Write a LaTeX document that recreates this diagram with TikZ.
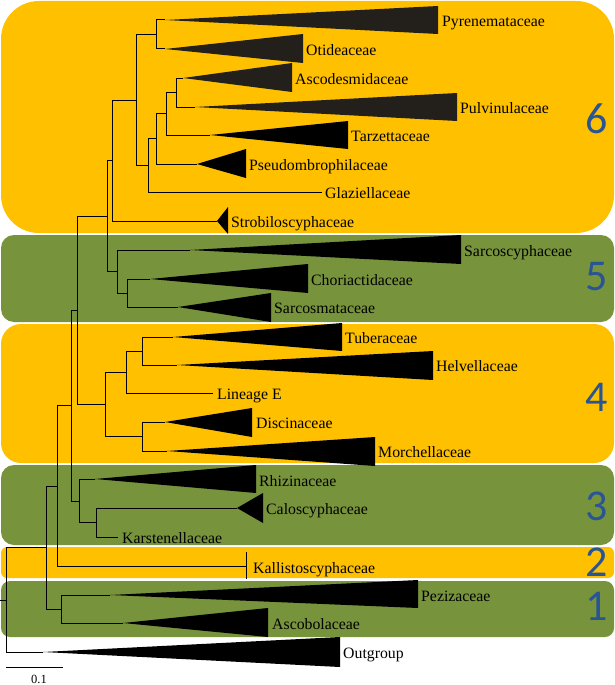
\documentclass[tikz,border=0pt]{standalone}
\usepackage{fontspec}
\setmainfont{Liberation Serif}
\newfontfamily\cladenumfont{Carlito}
\definecolor{boxyellow}{HTML}{FFC000}
\definecolor{boxgreen}{HTML}{77933C}
\definecolor{numblue}{HTML}{2A5594}
\definecolor{cladedark}{HTML}{231F1A}
\tikzset{
  branch/.style={draw=black, line width=1pt},
  taxon/.style={anchor=base west, inner sep=0pt, font=\fontsize{15.8}{18}\selectfont},
  grpnum/.style={text=numblue, inner sep=0pt, anchor=center, font=\cladenumfont\fontsize{44}{44}\selectfont},
}

\begin{document}
\begin{tikzpicture}[x=1pt, y=-1pt]
\useasboundingbox (0,0) rectangle (615,685);

% group boxes
\fill[boxyellow, rounded corners=38] (1,1) rectangle (614,233);
\fill[boxgreen, rounded corners=13] (1,235) rectangle (614,322);
\fill[boxyellow, rounded corners=20] (1,324) rectangle (614,463);
\fill[boxgreen, rounded corners=13] (1,465) rectangle (614,545);
\fill[boxyellow, rounded corners=6] (1,547) rectangle (614,578);
\fill[boxgreen, rounded corners=9] (1,581) rectangle (614,637);

\node[grpnum] (num6) at (597,119) {6};
\node[grpnum] (num5) at (597,277) {5};
\node[grpnum] (num4) at (597,397) {4};
\node[grpnum] (num3) at (597,506) {3};
\node[grpnum] (num2) at (597,562) {2};
\node[grpnum] (num1) at (597,606) {1};

% tips (apex of each collapsed clade, or end of a single branch)
\coordinate (pyren) at (165,20);
\coordinate (otid) at (165,49);
\coordinate (ascod) at (183,78);
\coordinate (pulvi) at (195,107);
\coordinate (tarze) at (210,135);
\coordinate (pseud) at (197,164);
\coordinate (glazi) at (322,192);
\coordinate (strob) at (217,221);
\coordinate (sarcoscy) at (190,250);
\coordinate (chori) at (150,279);
\coordinate (sarcosm) at (178,307);
\coordinate (tuber) at (173,337);
\coordinate (helve) at (177,365);
\coordinate (lineE) at (213,393);
\coordinate (disci) at (165,422);
\coordinate (morch) at (167,451);
\coordinate (rhizi) at (95,479);
\coordinate (calos) at (237,508);
\coordinate (karst) at (118,537);
\coordinate (kalli) at (246,566);
\coordinate (peziz) at (110,595);
\coordinate (ascob) at (123,623);
\coordinate (outgr) at (43,652);

% internal nodes
\coordinate (nPyrOti) at (156,34.5);
\coordinate (nAscPul) at (176,92.5);
\coordinate (nAPT) at (166,113.5);
\coordinate (nAPTP) at (156,138.5);
\coordinate (nAPTPG) at (148,165);
\coordinate (nSixCore) at (136,100);
\coordinate (nSix) at (112,160.5);
\coordinate (nChoSar) at (127,293);
\coordinate (nFive) at (117,271.5);
\coordinate (nSixFive) at (107,216);
\coordinate (nTubHel) at (142,351);
\coordinate (nTHL) at (126,372);
\coordinate (nDisMor) at (142,436.5);
\coordinate (nFour) at (105,404);
\coordinate (nSixToFour) at (77,310);
\coordinate (nCalKar) at (96,522.5);
\coordinate (nThree) at (79,501);
\coordinate (nSixToThree) at (71,405.5);
\coordinate (nSixToTwo) at (57,486);
\coordinate (nOne) at (61,609);
\coordinate (nIngroup) at (46,547.5);
\coordinate (nRoot) at (6,600);
\coordinate (rootStub) at (0,600);

% branches
\draw[branch] (nPyrOti) |- (pyren);
\draw[branch] (nPyrOti) |- (otid);
\draw[branch] (nAscPul) |- (ascod);
\draw[branch] (nAscPul) |- (pulvi);
\draw[branch] (nAPT) |- (nAscPul);
\draw[branch] (nAPT) |- (tarze);
\draw[branch] (nAPTP) |- (nAPT);
\draw[branch] (nAPTP) |- (pseud);
\draw[branch] (nAPTPG) |- (nAPTP);
\draw[branch] (nAPTPG) |- (glazi);
\draw[branch] (nSixCore) |- (nPyrOti);
\draw[branch] (nSixCore) |- (nAPTPG);
\draw[branch] (nSix) |- (nSixCore);
\draw[branch] (nSix) |- (strob);

\draw[branch] (nChoSar) |- (chori);
\draw[branch] (nChoSar) |- (sarcosm);
\draw[branch] (nFive) |- (sarcoscy);
\draw[branch] (nFive) |- (nChoSar);
\draw[branch] (nSixFive) |- (nSix);
\draw[branch] (nSixFive) |- (nFive);

\draw[branch] (nTubHel) |- (tuber);
\draw[branch] (nTubHel) |- (helve);
\draw[branch] (nTHL) |- (nTubHel);
\draw[branch] (nTHL) |- (lineE);
\draw[branch] (nDisMor) |- (disci);
\draw[branch] (nDisMor) |- (morch);
\draw[branch] (nFour) |- (nTHL);
\draw[branch] (nFour) |- (nDisMor);
\draw[branch] (nSixToFour) |- (nSixFive);
\draw[branch] (nSixToFour) |- (nFour);

\draw[branch] (nCalKar) |- (calos);
\draw[branch] (nCalKar) |- (karst);
\draw[branch] (nThree) |- (rhizi);
\draw[branch] (nThree) |- (nCalKar);
\draw[branch] (nSixToThree) |- (nSixToFour);
\draw[branch] (nSixToThree) |- (nThree);
\draw[branch] (nSixToTwo) |- (nSixToThree);
\draw[branch] (nSixToTwo) |- (kalli);
\draw[branch] (kalli) ++(0,-14) -- ++(0,27);

\draw[branch] (nOne) |- (peziz);
\draw[branch] (nOne) |- (ascob);
\draw[branch] (nIngroup) |- (nSixToTwo);
\draw[branch] (nIngroup) |- (nOne);
\draw[branch] (nRoot) |- (nIngroup);
\draw[branch] (nRoot) |- (outgr);
\draw[branch] (rootStub) -- (nRoot);

% collapsed clades
\fill[cladedark] (pyren) -- (438,6) -- (438,34) -- cycle;
\fill[cladedark] (otid) -- (303,34) -- (303,63) -- cycle;
\fill[cladedark] (ascod) -- (292,63) -- (292,92) -- cycle;
\fill[cladedark] (pulvi) -- (457,93) -- (457,121) -- cycle;
\fill[black] (tarze) -- (348,121) -- (348,149) -- cycle;
\fill[black] (pseud) -- (246,149) -- (246,178) -- cycle;
\fill[black] (strob) -- (228,207) -- (228,234) -- cycle;
\fill[black] (sarcoscy) -- (461,235) -- (461,264) -- cycle;
\fill[black] (chori) -- (308,264) -- (308,293) -- cycle;
\fill[black] (sarcosm) -- (271,293) -- (271,322) -- cycle;
\fill[black] (tuber) -- (342,323) -- (342,351) -- cycle;
\fill[black] (helve) -- (433,351) -- (433,380) -- cycle;
\fill[black] (disci) -- (252,408) -- (252,437) -- cycle;
\fill[black] (morch) -- (375,437) -- (375,466) -- cycle;
\fill[black] (rhizi) -- (256,465) -- (256,493) -- cycle;
\fill[black] (calos) -- (263,493) -- (263,523) -- cycle;
\fill[black] (peziz) -- (418,580) -- (418,608) -- cycle;
\fill[black] (ascob) -- (268,608) -- (268,637) -- cycle;
\fill[black] (outgr) -- (340,637) -- (340,667) -- cycle;

% taxon names
\node[taxon] (pyrenL) at (442,26.5) {Pyrenemataceae};
\node[taxon] (otidL) at (306,55.5) {Otideaceae};
\node[taxon] (ascodL) at (295,84.5) {Ascodesmidaceae};
\node[taxon] (pulviL) at (460,113.5) {Pulvinulaceae};
\node[taxon] (tarzeL) at (351,141.5) {Tarzettaceae};
\node[taxon] (pseudL) at (249,170.5) {Pseudombrophilaceae};
\node[taxon] (glaziL) at (325,198.5) {Glaziellaceae};
\node[taxon] (strobL) at (231,227.5) {Strobiloscyphaceae};
\node[taxon] (sarcoscyL) at (464,256.5) {Sarcoscyphaceae};
\node[taxon] (choriL) at (311,285.5) {Choriactidaceae};
\node[taxon] (sarcosmL) at (274,313.5) {Sarcosmataceae};
\node[taxon] (tuberL) at (345,343.5) {Tuberaceae};
\node[taxon] (helveL) at (436,371.5) {Helvellaceae};
\node[taxon] (lineEL) at (217,399.5) {Lineage E};
\node[taxon] (disciL) at (256,428.5) {Discinaceae};
\node[taxon] (morchL) at (378,457.5) {Morchellaceae};
\node[taxon] (rhiziL) at (259,486) {Rhizinaceae};
\node[taxon] (calosL) at (266,514.5) {Caloscyphaceae};
\node[taxon] (karstL) at (122,543) {Karstenellaceae};
\node[taxon] (kalliL) at (253,573) {Kallistoscyphaceae};
\node[taxon] (pezizL) at (421,601.5) {Pezizaceae};
\node[taxon] (ascobL) at (272,629.5) {Ascobolaceae};
\node[taxon] (outgrL) at (343,658.5) {Outgroup};

% scale bar
\coordinate (scaleA) at (6,667);
\coordinate (scaleB) at (63,667);
\draw[branch] (scaleA) -- (scaleB);
\node[anchor=base, inner sep=0pt, font=\fontsize{12.5}{14}\selectfont] (scaleL) at (39,683) {0.1};

\end{tikzpicture}
\end{document}
